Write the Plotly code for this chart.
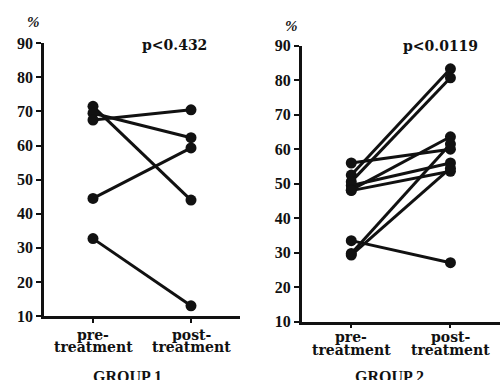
import plotly.graph_objects as go

# Paired measurements (%) before and after treatment, one pair per subject
stage_lines = [("pre-", "treatment"), ("post-", "treatment")]

group1_pre = [71.5, 69.5, 67.5, 44.5, 32.7]
group1_post = [44.0, 62.3, 70.5, 59.3, 13.0]

group2_pre = [56.0, 52.5, 50.6, 49.5, 48.2, 48.0, 33.5, 29.8, 29.3]
group2_post = [60.0, 83.3, 80.7, 56.0, 63.6, 53.6, 27.1, 61.5, 54.5]

p_values = ["p<0.432", "p<0.0119"]
group_names = ["GROUP 1", "GROUP 2"]
y_ticks = [10, 20, 30, 40, 50, 60, 70, 80, 90]

W, H = 503, 380
SERIF = "Liberation Serif"
WIDE_SERIF = "DejaVu Serif"
INK = "#111111"

fig = go.Figure()

groups = [(group1_pre, group1_post, "x", "y"), (group2_pre, group2_post, "x2", "y2")]
for pre, post, xa, ya in groups:
    for a, b in zip(pre, post):
        fig.add_trace(go.Scatter(
            x=[0, 1], y=[a, b], xaxis=xa, yaxis=ya,
            mode="lines+markers",
            line=dict(color=INK, width=3),
            marker=dict(color=INK, size=11),
            showlegend=False, hoverinfo="skip", cliponaxis=False,
        ))

# panel geometry in pixels: (x_left, x_right, y_bottom, y_top)
panels = [(44, 240, 316, 43.3), (301.7, 500, 321.7, 45.7)]
label_offsets = [(19, 31), (15.5, 28)]
p_pos = [(174.5, 45), (440, 46)]
pct_pos = [(33.5, 22), (291, 26)]
caption_x = [127, 389]

axis_common = dict(
    showgrid=False, zeroline=False, showline=True, automargin=False,
    linecolor=INK, linewidth=2.5, ticks="outside",
    tickcolor=INK, tickwidth=2, fixedrange=True,
)

layout = dict(
    width=W, height=H, margin=dict(l=0, r=0, t=0, b=0, autoexpand=False),
    paper_bgcolor="white", plot_bgcolor="white",
    font=dict(family=SERIF, color=INK),
    annotations=[],
)


def note(text, x, y, xref="paper", family=WIDE_SERIF, size=14, yanchor="middle"):
    return dict(
        x=x, xref=xref, y=y, yref="paper", xanchor="center", yanchor=yanchor,
        text=text, showarrow=False, font=dict(family=family, size=size, color=INK),
    )


for i, (xl, xr, yb, yt) in enumerate(panels):
    sfx = "" if i == 0 else str(i + 1)
    layout["xaxis" + sfx] = dict(
        axis_common, domain=[xl / W, xr / W], range=[-0.5, 1.5],
        tickvals=[0, 1], ticktext=["", ""], ticklen=4,
        anchor="y" + sfx,
    )
    layout["yaxis" + sfx] = dict(
        axis_common, domain=[1 - yb / H, 1 - yt / H], range=[10, 90],
        tickvals=y_ticks, ticktext=[f"<b>{v}</b>" for v in y_ticks], ticklen=5,
        tickfont=dict(family=SERIF, size=16, color=INK),
        anchor="x" + sfx,
    )
    xref = "x" + sfx
    # two-line category labels under each tick
    d1, d2 = label_offsets[i]
    for xv, (l1, l2) in zip([0, 1], stage_lines):
        layout["annotations"].append(note(f"<b>{l1}</b>", xv, 1 - (yb + d1) / H, xref=xref))
        layout["annotations"].append(note(f"<b>{l2}</b>", xv, 1 - (yb + d2) / H, xref=xref))
    # p-value label
    px, py = p_pos[i]
    layout["annotations"].append(note(f"<b>{p_values[i]}</b>", px / W, 1 - py / H))
    # unit label above axis
    ux, uy = pct_pos[i]
    layout["annotations"].append(note("<b><i>%</i></b>", ux / W, 1 - uy / H, family=SERIF, size=15))
    # group caption, partly below the page edge
    layout["annotations"].append(note(
        f"<b>{group_names[i]}</b>", caption_x[i] / W, 1 - 366 / H,
        family=SERIF, size=16, yanchor="top",
    ))

fig.update_layout(**layout)
fig.write_html("out.html")
